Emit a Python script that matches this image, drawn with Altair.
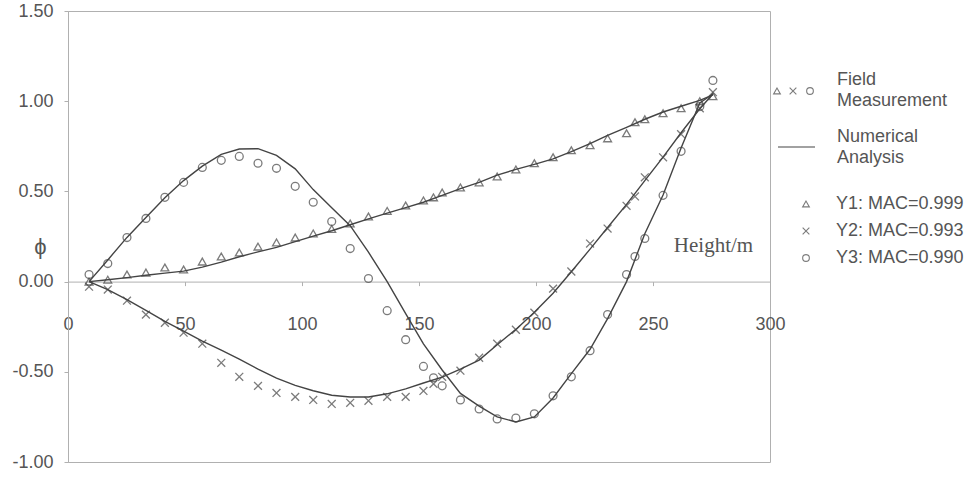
import altair as alt
import pandas as pd

# Measured heights (m) and mode-shape amplitudes from the field test
heights = [9, 17, 25.2, 33.3, 41.4, 49.4, 57.4, 65.5, 73.2, 81.2, 89.1, 97.1, 104.8,
           112.7, 120.6, 128.4, 136.4, 144.3, 151.9, 156.2, 159.9, 167.7, 175.7, 183.4,
           191.4, 199.3, 207.3, 215.1, 223.1, 230.6, 238.7, 242.3, 246.5, 254.3, 262,
           270, 275.6]
y1_meas = [0.0, 0.011, 0.039, 0.05, 0.078, 0.067, 0.111, 0.139, 0.161, 0.194, 0.217,
           0.244, 0.267, 0.292, 0.322, 0.361, 0.392, 0.422, 0.45, 0.467, 0.494, 0.522,
           0.55, 0.583, 0.622, 0.656, 0.689, 0.728, 0.756, 0.794, 0.822, 0.883, 0.9,
           0.933, 0.961, 1.0, 1.028]
y2_meas = [-0.028, -0.044, -0.106, -0.183, -0.228, -0.283, -0.344, -0.45, -0.528,
           -0.578, -0.617, -0.639, -0.656, -0.678, -0.672, -0.661, -0.639, -0.639,
           -0.606, -0.567, -0.528, -0.494, -0.422, -0.344, -0.267, -0.172, -0.039,
           0.056, 0.211, 0.294, 0.42, 0.472, 0.578, 0.689, 0.817, 0.961, 1.05]
y3_meas = [0.039, 0.1, 0.244, 0.35, 0.467, 0.55, 0.633, 0.672, 0.694, 0.656, 0.628,
           0.528, 0.44, 0.333, 0.183, 0.017, -0.161, -0.322, -0.47, -0.533, -0.578,
           -0.656, -0.706, -0.761, -0.756, -0.733, -0.633, -0.528, -0.383, -0.183,
           0.039, 0.139, 0.239, 0.478, 0.722, 0.97, 1.115]

# Finite-element model nodes and computed mode shapes
fem_heights = [9, 17, 25.2, 33.3, 41.4, 49.4, 57.4, 65.5, 73.2, 81.2, 89.1, 97.1, 104.8,
               112.7, 120.6, 128.4, 136.4, 144.3, 151.9, 159.9, 167.7, 175.7, 183.4,
               191.4, 199.3, 207.3, 215.1, 223.1, 230.6, 238.7, 246.5, 254.3, 262, 270,
               275.6]
y1_fem = [0, 0.01, 0.022, 0.035, 0.047, 0.058, 0.08, 0.108, 0.138, 0.165, 0.19, 0.222,
          0.252, 0.282, 0.315, 0.348, 0.38, 0.41, 0.44, 0.478, 0.515, 0.55, 0.59, 0.622,
          0.65, 0.68, 0.72, 0.765, 0.81, 0.855, 0.9, 0.94, 0.972, 1.005, 1.035]
y2_fem = [0, -0.045, -0.1, -0.16, -0.22, -0.275, -0.33, -0.38, -0.43, -0.485, -0.535,
          -0.575, -0.605, -0.63, -0.64, -0.64, -0.622, -0.595, -0.562, -0.53, -0.485,
          -0.435, -0.35, -0.265, -0.17, -0.065, 0.055, 0.18, 0.3, 0.428, 0.56, 0.69,
          0.825, 0.958, 1.04]
y3_fem = [0, 0.12, 0.245, 0.355, 0.465, 0.56, 0.64, 0.705, 0.735, 0.737, 0.7, 0.625,
          0.51, 0.41, 0.31, 0.163, 0.0, -0.177, -0.345, -0.49, -0.62, -0.69, -0.75,
          -0.778, -0.75, -0.645, -0.51, -0.375, -0.205, 0.0, 0.265, 0.48, 0.74, 0.99,
          1.04]

series_labels = ["Y1: MAC=0.999", "Y2: MAC=0.993", "Y3: MAC=0.990"]
x_ticks = [0, 50, 100, 150, 200, 250, 300]
y_ticks = [-1.0, -0.5, 0.0, 0.5, 1.0, 1.5]

INK = "#444444"
TEXT = "#555555"
FRAME = "#b0b0b0"
CROSS = "M-1,-1L1,1M-1,1L1,-1"

meas = pd.DataFrame({
    "height": heights * 3,
    "phi": y1_meas + y2_meas + y3_meas,
    "series": [series_labels[0]] * len(heights) + [series_labels[1]] * len(heights)
              + [series_labels[2]] * len(heights),
})
fem = pd.DataFrame({
    "height": fem_heights * 3,
    "phi": y1_fem + y2_fem + y3_fem,
    "series": [series_labels[0]] * len(fem_heights) + [series_labels[1]] * len(fem_heights)
              + [series_labels[2]] * len(fem_heights),
})

W, H = 702, 451
LEFT, TOP = 68, 11

x_enc = alt.X("height:Q",
              scale=alt.Scale(domain=[0, 300], nice=False, zero=False),
              axis=alt.Axis(values=x_ticks, format="d", offset=-H * 1.0 / 2.5,
                            tickSize=4, labelPadding=30, labelFlush=False,
                            title="Height/m", titleFont="Liberation Serif",
                            titleFontSize=21, titleFontWeight="normal",
                            titleColor=TEXT, titleX=645, titleY=-36,
                            titleAlign="center", titleBaseline="middle"))
y_enc = alt.Y("phi:Q",
              scale=alt.Scale(domain=[-1.0, 1.5], nice=False, zero=False),
              axis=alt.Axis(values=y_ticks,
                            labelExpr="replace(format(datum.value, '.2f'), '\u2212', '-')",
                            tickSize=4, labelPadding=11, title="\u03d5",
                            titleAngle=0, titleFont="Liberation Sans",
                            titleFontSize=22, titleFontWeight="normal",
                            titleColor=TEXT, titleX=-28, titleY=235,
                            titleAlign="center", titleBaseline="middle"))

lines = alt.Chart(fem).mark_line(color=INK, strokeWidth=1.4).encode(
    x=x_enc, y=y_enc, detail="series:N"
)

points = alt.Chart(meas).mark_point(filled=False, color=INK, strokeWidth=1.3, size=62).encode(
    x="height:Q",
    y="phi:Q",
    shape=alt.Shape("series:N",
                    scale=alt.Scale(domain=series_labels,
                                    range=["triangle-up", CROSS, "circle"]),
                    legend=alt.Legend(orient="none", legendX=729, legendY=184,
                                      direction="vertical", title=None, padding=0,
                                      labelFont="Liberation Sans", labelFontSize=18,
                                      labelColor=TEXT, labelOffset=21,
                                      symbolSize=45, symbolStrokeWidth=1.1,
                                      symbolStrokeColor=INK, symbolFillColor="transparent",
                                      rowPadding=9)),
)

one = pd.DataFrame({"k": [0]})


def note(text, px, py):
    return alt.Chart(one).mark_text(
        align="left", baseline="middle", font="Liberation Sans", fontSize=18, color=TEXT
    ).encode(x=alt.value(px - LEFT), y=alt.value(py - TOP), text=alt.value(text))


legend_marks = [
    note("Field", 837, 80),
    note("Measurement", 837, 101),
    note("Numerical", 837, 137),
    note("Analysis", 837, 158),
    alt.Chart(one).mark_rule(color=INK, strokeWidth=1.2).encode(
        x=alt.value(778 - LEFT), x2=alt.value(815 - LEFT), y=alt.value(147 - TOP)),
]
for shp, px in zip(["triangle-up", CROSS, "circle"], [777, 793, 810]):
    legend_marks.append(
        alt.Chart(one).mark_point(filled=False, color=INK, strokeWidth=1.1, size=45, shape=shp)
        .encode(x=alt.value(px - LEFT), y=alt.value(91 - TOP))
    )

chart = alt.layer(lines, points, *legend_marks).properties(
    width=W, height=H,
    autosize=alt.AutoSizeParams(type="none"),
    padding={"left": LEFT, "top": TOP, "right": 973 - LEFT - W, "bottom": 488 - TOP - H},
    background="white",
).configure_view(
    stroke=FRAME, strokeWidth=1
).configure_axis(
    grid=False, domainColor=FRAME, tickColor=FRAME, labelColor=TEXT,
    labelFont="Liberation Sans", labelFontSize=18
)

chart.save("out.html", embed_options={"renderer": "svg", "actions": False})
